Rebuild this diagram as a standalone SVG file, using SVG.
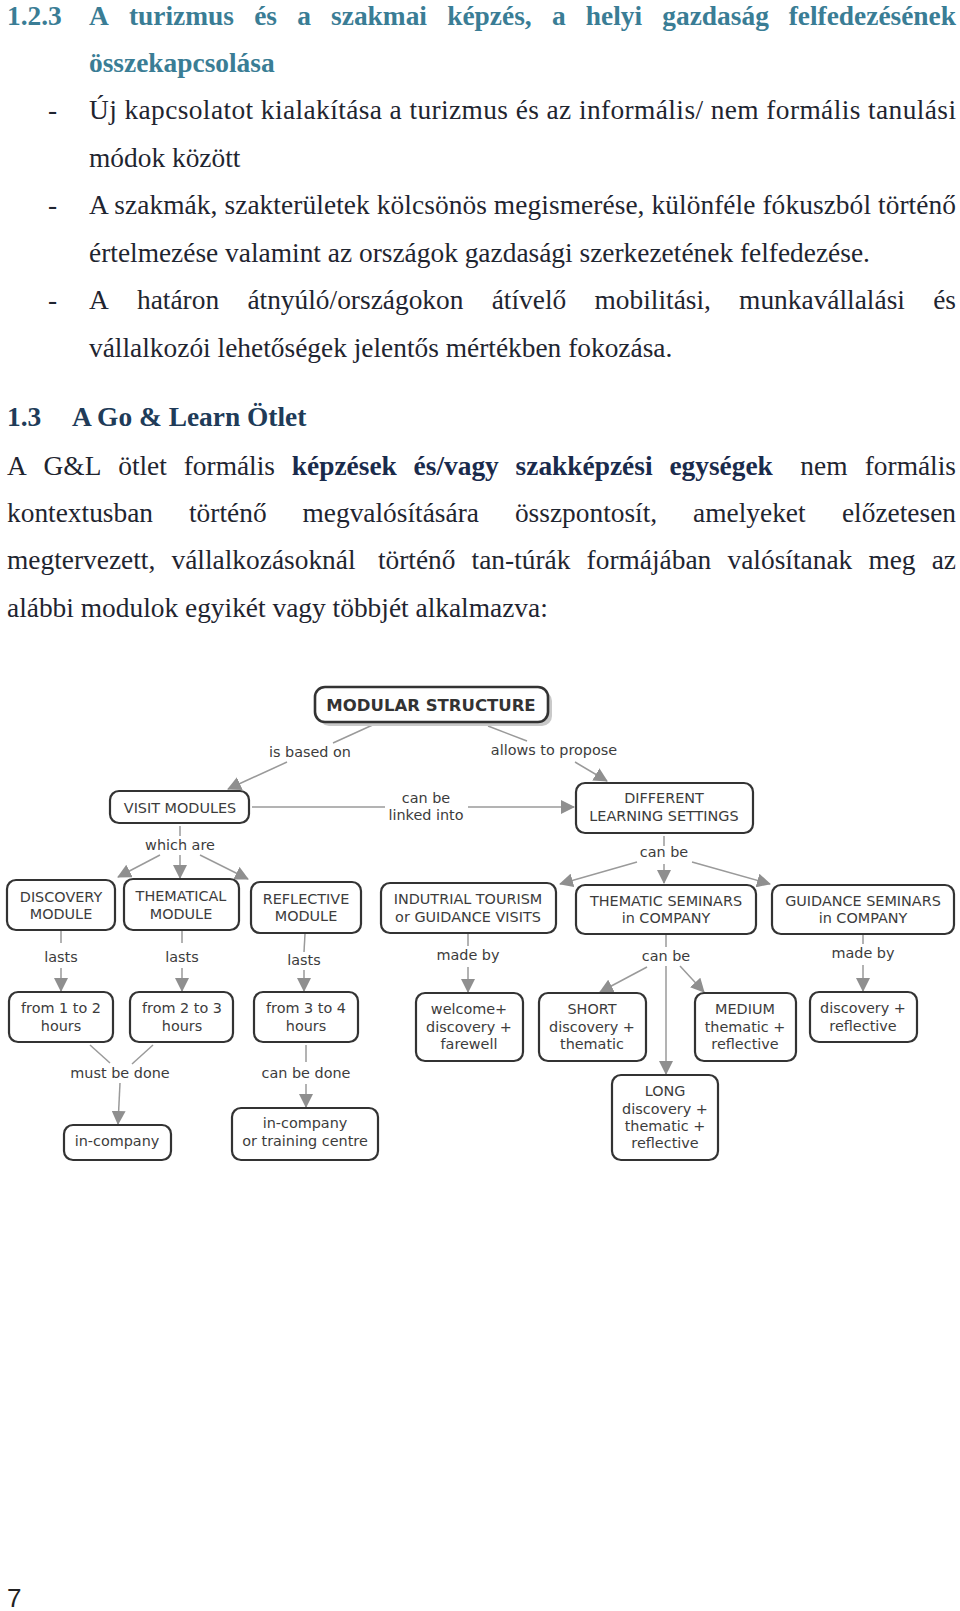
<svg xmlns="http://www.w3.org/2000/svg" width="960" height="1611" viewBox="0 0 960 1611">
<style>
.t{font-family:"Liberation Serif","Times New Roman",serif;font-size:27.4px;fill:#1f2530}
.hd{font-weight:bold;fill:#3a7d95}
.h2{font-weight:bold;fill:#203b58}
.bb{font-weight:bold;fill:#1a2b4c}
.n rect{fill:#fff;stroke:#333;stroke-width:2.2}
.n text,.lb{font-family:"DejaVu Sans",Verdana,sans-serif;font-size:14.4px;fill:#3c3c3c;text-anchor:middle}
.c line{stroke:#9a9a9a;stroke-width:1.5;fill:none}
.c line.a{marker-end:url(#ah)}
</style>
<defs>
<marker id="ah" viewBox="0 0 14 14" refX="13" refY="7" markerWidth="14" markerHeight="14" markerUnits="userSpaceOnUse" orient="auto">
<path d="M0,0 L14,7 L0,14 z" fill="#8f8f8f"/>
</marker>
</defs>
<rect width="960" height="1611" fill="#fff"/>

<!-- body text -->
<g id="text-top" class="t">
<text class="t hd" y="25"><tspan x="7">1.2.3</tspan><tspan x="89">A</tspan><tspan x="129">turizmus</tspan><tspan x="254.2">és</tspan><tspan x="297.2">a</tspan><tspan x="331.1">szakmai</tspan><tspan x="447.2">képzés,</tspan><tspan x="551.9">a</tspan><tspan x="585.8">helyi</tspan><tspan x="662.3">gazdaság</tspan></text>
<text class="t hd" x="956" y="25" text-anchor="end">felfedezésének</text>
<text class="t hd" x="89" y="72">összekapcsolása</text>
<text class="t" x="48" y="119">-</text>
<text class="t" x="89" y="119" textLength="867" lengthAdjust="spacing">Új kapcsolatot kialakítása a turizmus és az informális/ nem formális tanulási</text>
<text class="t" x="89" y="167">módok között</text>
<text class="t" x="48" y="214">-</text>
<text class="t" x="89" y="214" textLength="867" lengthAdjust="spacing">A szakmák, szakterületek kölcsönös megismerése, különféle fókuszból történő</text>
<text class="t" x="89" y="262">értelmezése valamint az országok gazdasági szerkezetének felfedezése.</text>
<text class="t" x="48" y="309">-</text>
<text class="t" y="309"><tspan x="89">A</tspan><tspan x="137">határon</tspan><tspan x="247.4">átnyúló/országokon</tspan><tspan x="491.7">átívelő</tspan><tspan x="594.5">mobilitási,</tspan><tspan x="739.1">munkavállalási</tspan></text>
<text class="t" x="956" y="309" text-anchor="end">és</text>
<text class="t" x="89" y="357">vállalkozói lehetőségek jelentős mértékben fokozása.</text>
<text class="t h2" y="426"><tspan x="7">1.3</tspan><tspan x="72">A Go &amp; Learn Ötlet</tspan></text>
<text class="t" y="475"><tspan x="7">A</tspan><tspan x="43.6">G&amp;L</tspan><tspan x="118.2">ötlet</tspan><tspan x="183.7">formális</tspan><tspan class="bb" x="291.8">képzések</tspan><tspan class="bb" x="413.6">és/vagy</tspan><tspan class="bb" x="515.6">szakképzési</tspan><tspan class="bb" x="669.4">egységek</tspan><tspan x="800.3">nem</tspan></text>
<text class="t" x="956" y="475" text-anchor="end">formális</text>
<text class="t" y="522"><tspan x="7">kontextusban</tspan><tspan x="189">történő</tspan><tspan x="302.5">megvalósítására</tspan><tspan x="514.9">összpontosít,</tspan><tspan x="693.1">amelyeket</tspan></text>
<text class="t" x="956" y="522" text-anchor="end">előzetesen</text>
<text class="t" y="569"><tspan x="7">megtervezett,</tspan><tspan x="171.5">vállalkozásoknál</tspan><tspan x="377.9">történő</tspan><tspan x="471.6">tan-túrák</tspan><tspan x="586.6">formájában</tspan><tspan x="727.5">valósítanak</tspan><tspan x="868.4">meg</tspan></text>
<text class="t" x="956" y="569" text-anchor="end">az</text>
<text class="t" x="7" y="617">alábbi modulok egyikét vagy többjét alkalmazva:</text>
<text x="7" y="1607" style="font-family:'Liberation Sans','Noto Sans',sans-serif;font-size:26px;fill:#222">7</text>
</g>

<!-- connectors -->
<g id="connectors" class="c">
<line x1="377" y1="723" x2="333" y2="743"/>
<line class="a" x1="287" y1="762" x2="228" y2="789"/>
<line x1="488" y1="726" x2="527" y2="741"/>
<line class="a" x1="575" y1="762" x2="607" y2="781"/>
<line x1="252" y1="807" x2="385" y2="807"/>
<line class="a" x1="468" y1="807" x2="574" y2="807"/>
<line x1="180" y1="826" x2="180" y2="836"/>
<line class="a" x1="160" y1="855" x2="118" y2="877"/>
<line class="a" x1="180" y1="855" x2="180" y2="878"/>
<line class="a" x1="200" y1="855" x2="248" y2="879"/>
<line x1="664" y1="836" x2="664" y2="846"/>
<line class="a" x1="637" y1="862" x2="560" y2="884"/>
<line class="a" x1="664" y1="864" x2="664" y2="883"/>
<line class="a" x1="692" y1="862" x2="770" y2="884"/>
<line x1="61" y1="931" x2="61" y2="943"/>
<line class="a" x1="61" y1="968" x2="61" y2="991"/>
<line x1="182" y1="931" x2="182" y2="943"/>
<line class="a" x1="182" y1="968" x2="182" y2="991"/>
<line x1="305" y1="934" x2="304" y2="952"/>
<line class="a" x1="304" y1="970" x2="304" y2="991"/>
<line x1="468" y1="934" x2="468" y2="946"/>
<line class="a" x1="468" y1="967" x2="468" y2="992"/>
<line x1="666" y1="935" x2="666" y2="947"/>
<line class="a" x1="647" y1="967" x2="600" y2="992"/>
<line class="a" x1="666" y1="966" x2="666" y2="1074"/>
<line class="a" x1="680" y1="966" x2="704" y2="992"/>
<line x1="863" y1="935" x2="863" y2="944"/>
<line class="a" x1="863" y1="965" x2="863" y2="991"/>
<line x1="90" y1="1045" x2="110" y2="1063"/>
<line x1="153" y1="1045" x2="132" y2="1064"/>
<line class="a" x1="120" y1="1083" x2="118" y2="1124"/>
<line x1="306" y1="1045" x2="306" y2="1062"/>
<line class="a" x1="306" y1="1084" x2="306" y2="1107"/>
</g>

<!-- connector labels -->
<g id="labels">
<text class="lb" x="310" y="757">is based on</text>
<text class="lb" x="554" y="755">allows to propose</text>
<text class="lb" x="426" y="803">can be</text>
<text class="lb" x="426" y="820">linked into</text>
<text class="lb" x="180" y="850">which are</text>
<text class="lb" x="664" y="857">can be</text>
<text class="lb" x="61" y="962">lasts</text>
<text class="lb" x="182" y="962">lasts</text>
<text class="lb" x="304" y="965">lasts</text>
<text class="lb" x="468" y="960">made by</text>
<text class="lb" x="666" y="961">can be</text>
<text class="lb" x="863" y="958">made by</text>
<text class="lb" x="120" y="1078">must be done</text>
<text class="lb" x="306" y="1078">can be done</text>
</g>

<!-- nodes -->
<g id="n-modular" class="n">
<rect x="319" y="691" width="233" height="35" rx="10" style="fill:#c9c9c9;stroke:none"/>
<rect x="315" y="687" width="233" height="35" rx="10" style="stroke-width:2.6"/>
<text x="431" y="711" style="font-size:16.5px;font-weight:bold;fill:#333">MODULAR STRUCTURE</text>
</g>
<g id="n-visit" class="n"><rect x="110" y="791" width="139" height="32" rx="9"/><text x="180" y="813">VISIT MODULES</text></g>
<g id="n-different" class="n"><rect x="576" y="783" width="177" height="50" rx="9"/><text x="664" y="803">DIFFERENT</text><text x="664" y="821">LEARNING SETTINGS</text></g>
<g id="n-discovery" class="n"><rect x="7" y="880" width="108" height="50" rx="9"/><text x="61" y="902">DISCOVERY</text><text x="61" y="919">MODULE</text></g>
<g id="n-thematical" class="n"><rect x="124" y="879" width="115" height="51" rx="9"/><text x="181" y="901">THEMATICAL</text><text x="181" y="919">MODULE</text></g>
<g id="n-reflective" class="n"><rect x="251" y="882" width="110" height="51" rx="9"/><text x="306" y="904">REFLECTIVE</text><text x="306" y="921">MODULE</text></g>
<g id="n-indutrial" class="n"><rect x="381" y="883" width="175" height="50" rx="9"/><text x="468" y="904">INDUTRIAL TOURISM</text><text x="468" y="922">or GUIDANCE VISITS</text></g>
<g id="n-thematic-sem" class="n"><rect x="576" y="885" width="180" height="49" rx="9"/><text x="666" y="906">THEMATIC SEMINARS</text><text x="666" y="923">in COMPANY</text></g>
<g id="n-guidance-sem" class="n"><rect x="772" y="885" width="182" height="49" rx="9"/><text x="863" y="906">GUIDANCE SEMINARS</text><text x="863" y="923">in COMPANY</text></g>
<g id="n-1to2" class="n"><rect x="9" y="992" width="104" height="50" rx="9"/><text x="61" y="1013">from 1 to 2</text><text x="61" y="1031">hours</text></g>
<g id="n-2to3" class="n"><rect x="130" y="992" width="103" height="50" rx="9"/><text x="182" y="1013">from 2 to 3</text><text x="182" y="1031">hours</text></g>
<g id="n-3to4" class="n"><rect x="254" y="992" width="104" height="50" rx="9"/><text x="306" y="1013">from 3 to 4</text><text x="306" y="1031">hours</text></g>
<g id="n-incompany" class="n"><rect x="64" y="1125" width="107" height="35" rx="9"/><text x="117" y="1146">in-company</text></g>
<g id="n-incompany-tc" class="n"><rect x="232" y="1108" width="146" height="52" rx="9"/><text x="305" y="1128">in-company</text><text x="305" y="1146">or training centre</text></g>
<g id="n-welcome" class="n"><rect x="416" y="993" width="107" height="68" rx="9"/><text x="469" y="1014">welcome+</text><text x="469" y="1032">discovery +</text><text x="469" y="1049">farewell</text></g>
<g id="n-short" class="n"><rect x="539" y="993" width="107" height="68" rx="9"/><text x="592" y="1014">SHORT</text><text x="592" y="1032">discovery +</text><text x="592" y="1049">thematic</text></g>
<g id="n-medium" class="n"><rect x="695" y="993" width="101" height="68" rx="9"/><text x="745" y="1014">MEDIUM</text><text x="745" y="1032">thematic +</text><text x="745" y="1049">reflective</text></g>
<g id="n-disc-refl" class="n"><rect x="810" y="992" width="107" height="50" rx="9"/><text x="863" y="1013">discovery +</text><text x="863" y="1031">reflective</text></g>
<g id="n-long" class="n"><rect x="612" y="1075" width="106" height="85" rx="9"/><text x="665" y="1096">LONG</text><text x="665" y="1114">discovery +</text><text x="665" y="1131">thematic +</text><text x="665" y="1148">reflective</text></g>
</svg>
